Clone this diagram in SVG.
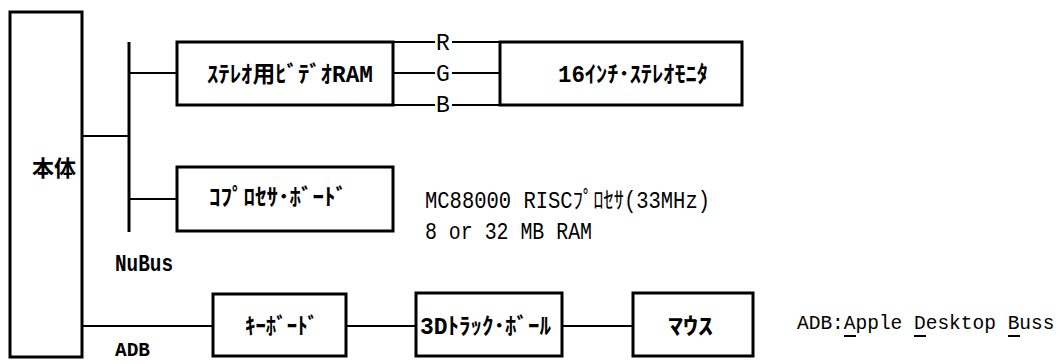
<svg xmlns="http://www.w3.org/2000/svg" width="1060" height="364" viewBox="0 0 1060 364">
  <style>
    .box { fill: #ffffff; stroke: #000000; stroke-width: 3; }
    .conn { stroke: #000000; stroke-width: 2; fill: none; }
    .bus { stroke: #000000; stroke-width: 3; fill: none; }
    .t { font-family: "Liberation Mono", "Noto Sans CJK JP", monospace; font-size: 23px; fill: #000000; }
    .b { font-weight: bold; }
    .big { font-family: "Noto Sans CJK JP", sans-serif; font-size: 22px; font-weight: bold; fill: #000000; }
  </style>
  <rect width="1060" height="364" fill="#ffffff"/>
  <g id="connectors">
    <line class="conn" x1="82" y1="136" x2="129" y2="136"/>
    <line class="bus" x1="129" y1="42" x2="129" y2="232"/>
    <line class="conn" x1="129" y1="73" x2="177" y2="73"/>
    <line class="conn" x1="129" y1="199" x2="177" y2="199"/>
    <line class="conn" x1="393" y1="42" x2="435" y2="42"/>
    <line class="conn" x1="452" y1="42" x2="500" y2="42"/>
    <line class="conn" x1="393" y1="73" x2="435" y2="73"/>
    <line class="conn" x1="452" y1="73" x2="500" y2="73"/>
    <line class="conn" x1="393" y1="105" x2="435" y2="105"/>
    <line class="conn" x1="452" y1="105" x2="500" y2="105"/>
    <text class="t" x="443" y="50" text-anchor="middle">R</text>
    <text class="t" x="443" y="81" text-anchor="middle">G</text>
    <text class="t" x="443" y="112" text-anchor="middle">B</text>
    <line class="conn" x1="82" y1="326" x2="213" y2="326"/>
    <line class="conn" x1="346" y1="326" x2="416" y2="326"/>
    <line class="conn" x1="562" y1="326" x2="633" y2="326"/>
    <text class="t b" x="115" y="271" textLength="58" lengthAdjust="spacingAndGlyphs">NuBus</text>
    <text class="t b" x="115" y="356" style="font-size:20px" textLength="35" lengthAdjust="spacingAndGlyphs">ADB</text>
  </g>
  <g id="honntai">
    <rect class="box" x="10" y="12" width="72" height="345"/>
    <text class="big" x="54" y="176" text-anchor="middle">本体</text>
  </g>
  <g id="video-ram">
    <rect class="box" x="177" y="42" width="216" height="63"/>
    <text class="t b" x="207" y="82" textLength="166" lengthAdjust="spacingAndGlyphs">ｽﾃﾚｵ用ﾋﾞﾃﾞｵRAM</text>
  </g>
  <g id="monitor">
    <rect class="box" x="500" y="42" width="242" height="63"/>
    <text class="t b" x="558" y="82" textLength="150" lengthAdjust="spacingAndGlyphs">16ｲﾝﾁ･ｽﾃﾚｵﾓﾆﾀ</text>
  </g>
  <g id="coprocessor">
    <rect class="box" x="177" y="167" width="216" height="64"/>
    <text class="t b" x="209" y="205" textLength="138" lengthAdjust="spacingAndGlyphs">ｺﾌﾟﾛｾｻ･ﾎﾞｰﾄﾞ</text>
  </g>
  <g id="coprocessor-note">
    <text class="t" x="425" y="208" textLength="285" lengthAdjust="spacingAndGlyphs">MC88000 RISCﾌﾟﾛｾｻ(33MHz)</text>
    <text class="t" x="425" y="239" textLength="167" lengthAdjust="spacingAndGlyphs">8 or 32 MB RAM</text>
  </g>
  <g id="keyboard">
    <rect class="box" x="213" y="294" width="133" height="62"/>
    <text class="t b" x="245" y="334" textLength="73" lengthAdjust="spacingAndGlyphs">ｷｰﾎﾞｰﾄﾞ</text>
  </g>
  <g id="trackball">
    <rect class="box" x="416" y="293" width="146" height="63"/>
    <text class="t b" x="420" y="334" textLength="131" lengthAdjust="spacingAndGlyphs">3Dﾄﾗｯｸ･ﾎﾞｰﾙ</text>
  </g>
  <g id="mouse">
    <rect class="box" x="633" y="293" width="120" height="63"/>
    <text class="t b" x="668" y="334" textLength="45" lengthAdjust="spacingAndGlyphs">ﾏｳｽ</text>
  </g>
  <g id="adb-note">
    <text class="t" x="797" y="329" style="font-size:19.5px">ADB:Apple Desktop Buss</text>
    <line class="conn" x1="844" y1="336" x2="856" y2="336"/>
    <line class="conn" x1="914" y1="336" x2="926" y2="336"/>
    <line class="conn" x1="1008" y1="336" x2="1020" y2="336"/>
  </g>
</svg>
